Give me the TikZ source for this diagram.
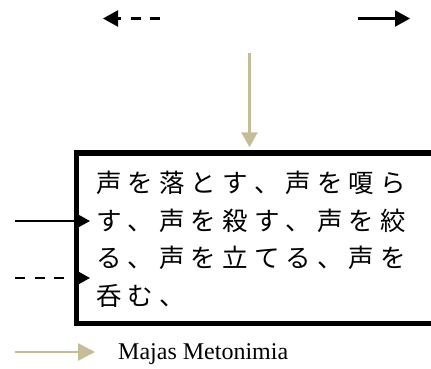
\documentclass[tikz,border=0pt]{standalone}
\usepackage{fontspec}
\setmainfont{Liberation Serif}
\newfontfamily\cjk{Noto Sans CJK JP}
\usetikzlibrary{arrows.meta}
\definecolor{tan}{RGB}{196,189,151}
\newcommand\jc[1]{\makebox[31.6pt][l]{#1}}
\tikzset{
  blk/.style={line width=2.2pt,-{Triangle[length=15pt,width=16pt]}},
  tanarr/.style={draw=tan,line width=2.6pt,-{Triangle[length=15pt,width=16pt]}},
  dsh/.style={dash pattern=on 10pt off 9.5pt on 10pt off 9.5pt on 10pt off 40pt},
  jline/.style={anchor=base west,inner sep=0pt,font=\cjk\fontsize{25.5pt}{25.5pt}\selectfont},
  mainbox/.style={draw,line width=5.5pt,anchor=north west,inner sep=0pt,minimum width=365pt,minimum height=170.5pt}
}
\begin{document}
\begin{tikzpicture}[x=1pt,y=-1pt]
\useasboundingbox (0,0) rectangle (431,369);
\node[mainbox] (box) at (73.5,150) {};
\node[jline] (l1) at (96,192) {\jc{声}\jc{を}\jc{落}\jc{と}\jc{す}\jc{、}\jc{声}\jc{を}\jc{嗄}\jc{ら}};
\node[jline] (l2) at (96,230.5) {\jc{す}\jc{、}\jc{声}\jc{を}\jc{殺}\jc{す}\jc{、}\jc{声}\jc{を}\jc{絞}};
\node[jline] (l3) at (96,267) {\jc{る}\jc{、}\jc{声}\jc{を}\jc{立}\jc{て}\jc{る}\jc{、}\jc{声}\jc{を}};
\node[jline] (l4) at (96,305) {\jc{呑}\jc{む}\jc{、}};
% top arrows
\coordinate (td1) at (160,18.5);
\coordinate (td2) at (103,18.5);
\coordinate (ts1) at (358,18.5);
\coordinate (ts2) at (410,18.5);
\draw[blk,dsh] (td1) -- (td2);
\draw[blk] (ts1) -- (ts2);
% tan arrow into box
\coordinate (tan1) at (249.5,53);
\draw[tanarr,shorten >=2.75pt] (tan1) -- (tan1 |- box.north);
% left arrows
\coordinate (ls1) at (15,221);
\coordinate (ls2) at (90,221);
\coordinate (ld1) at (15,278);
\coordinate (ld2) at (90,278);
\draw[blk] (ls1) -- (ls2);
\draw[blk,dsh] (ld1) -- (ld2);
% legend
\coordinate (lg1) at (15,352);
\node[anchor=base west,inner sep=0pt,font=\fontsize{24pt}{24pt}\selectfont] (lgt) at (118,359) {Majas Metonimia};
\draw[draw=tan,line width=2.8pt,-{Triangle[length=17pt,width=17pt]}] (lg1) -- (lg1 -| 95,0);
\end{tikzpicture}
\end{document}
